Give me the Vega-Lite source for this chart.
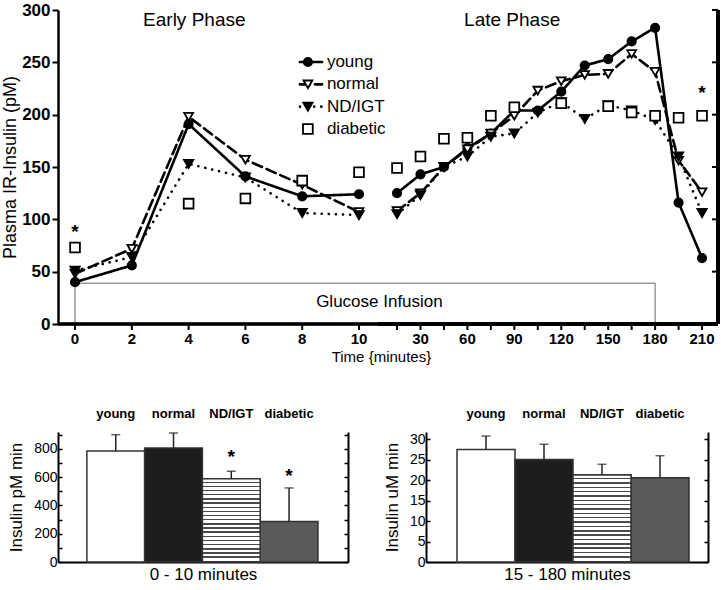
{
  "$schema": "https://vega.github.io/schema/vega-lite/v6.json",
  "background": "white",
  "padding": {"left": 1, "top": 1, "right": 0, "bottom": 0},
  "resolve": {"scale": {"fill": "independent", "shape": "independent", "size": "independent", "strokeDash": "independent"}},
  "config": {
    "font": "Liberation Sans",
    "view": {"stroke": null},
    "axis": {"grid": false, "domainColor": "black", "tickColor": "black", "labelColor": "black", "titleColor": "black", "titleFontWeight": "normal"}
  },
  "datasets": {
    "ts": [
      {"t": 0, "g": "young", "v": 40, "p": "early"},
      {"t": 2, "g": "young", "v": 56, "p": "early"},
      {"t": 4, "g": "young", "v": 191, "p": "early"},
      {"t": 6, "g": "young", "v": 141, "p": "early"},
      {"t": 8, "g": "young", "v": 122, "p": "early"},
      {"t": 10, "g": "young", "v": 124, "p": "early"},
      {"t": 0, "g": "normal", "v": 48, "p": "early"},
      {"t": 2, "g": "normal", "v": 72, "p": "early"},
      {"t": 4, "g": "normal", "v": 198, "p": "early"},
      {"t": 6, "g": "normal", "v": 157, "p": "early"},
      {"t": 8, "g": "normal", "v": 133, "p": "early"},
      {"t": 10, "g": "normal", "v": 107, "p": "early"},
      {"t": 0, "g": "ND/IGT", "v": 51, "p": "early"},
      {"t": 2, "g": "ND/IGT", "v": 64, "p": "early"},
      {"t": 4, "g": "ND/IGT", "v": 153, "p": "early"},
      {"t": 6, "g": "ND/IGT", "v": 140, "p": "early"},
      {"t": 8, "g": "ND/IGT", "v": 106, "p": "early"},
      {"t": 10, "g": "ND/IGT", "v": 104, "p": "early"},
      {"t": 0, "g": "diabetic", "v": 73, "p": "early"},
      {"t": 4, "g": "diabetic", "v": 115, "p": "early"},
      {"t": 6, "g": "diabetic", "v": 120, "p": "early"},
      {"t": 8, "g": "diabetic", "v": 137, "p": "early"},
      {"t": 10, "g": "diabetic", "v": 145, "p": "early"},
      {"t": 15, "g": "young", "v": 125, "p": "late"},
      {"t": 30, "g": "young", "v": 143, "p": "late"},
      {"t": 45, "g": "young", "v": 150, "p": "late"},
      {"t": 60, "g": "young", "v": 168, "p": "late"},
      {"t": 75, "g": "young", "v": 182, "p": "late"},
      {"t": 90, "g": "young", "v": 204, "p": "late"},
      {"t": 105, "g": "young", "v": 204, "p": "late"},
      {"t": 120, "g": "young", "v": 222, "p": "late"},
      {"t": 135, "g": "young", "v": 247, "p": "late"},
      {"t": 150, "g": "young", "v": 253, "p": "late"},
      {"t": 165, "g": "young", "v": 270, "p": "late"},
      {"t": 180, "g": "young", "v": 283, "p": "late"},
      {"t": 195, "g": "young", "v": 116, "p": "late"},
      {"t": 210, "g": "young", "v": 63, "p": "late"},
      {"t": 15, "g": "normal", "v": 108, "p": "late"},
      {"t": 30, "g": "normal", "v": 125, "p": "late"},
      {"t": 45, "g": "normal", "v": 150, "p": "late"},
      {"t": 60, "g": "normal", "v": 167, "p": "late"},
      {"t": 75, "g": "normal", "v": 182, "p": "late"},
      {"t": 90, "g": "normal", "v": 199, "p": "late"},
      {"t": 105, "g": "normal", "v": 223, "p": "late"},
      {"t": 120, "g": "normal", "v": 232, "p": "late"},
      {"t": 135, "g": "normal", "v": 238, "p": "late"},
      {"t": 150, "g": "normal", "v": 239, "p": "late"},
      {"t": 165, "g": "normal", "v": 258, "p": "late"},
      {"t": 180, "g": "normal", "v": 241, "p": "late"},
      {"t": 195, "g": "normal", "v": 156, "p": "late"},
      {"t": 210, "g": "normal", "v": 126, "p": "late"},
      {"t": 15, "g": "ND/IGT", "v": 105, "p": "late"},
      {"t": 30, "g": "ND/IGT", "v": 123, "p": "late"},
      {"t": 45, "g": "ND/IGT", "v": 150, "p": "late"},
      {"t": 60, "g": "ND/IGT", "v": 160, "p": "late"},
      {"t": 75, "g": "ND/IGT", "v": 179, "p": "late"},
      {"t": 90, "g": "ND/IGT", "v": 182, "p": "late"},
      {"t": 105, "g": "ND/IGT", "v": 202, "p": "late"},
      {"t": 120, "g": "ND/IGT", "v": 212, "p": "late"},
      {"t": 135, "g": "ND/IGT", "v": 196, "p": "late"},
      {"t": 150, "g": "ND/IGT", "v": 209, "p": "late"},
      {"t": 165, "g": "ND/IGT", "v": 204, "p": "late"},
      {"t": 180, "g": "ND/IGT", "v": 195, "p": "late"},
      {"t": 195, "g": "ND/IGT", "v": 160, "p": "late"},
      {"t": 210, "g": "ND/IGT", "v": 106, "p": "late"},
      {"t": 15, "g": "diabetic", "v": 149, "p": "late"},
      {"t": 30, "g": "diabetic", "v": 160, "p": "late"},
      {"t": 45, "g": "diabetic", "v": 177, "p": "late"},
      {"t": 60, "g": "diabetic", "v": 178, "p": "late"},
      {"t": 75, "g": "diabetic", "v": 199, "p": "late"},
      {"t": 90, "g": "diabetic", "v": 207, "p": "late"},
      {"t": 120, "g": "diabetic", "v": 211, "p": "late"},
      {"t": 150, "g": "diabetic", "v": 208, "p": "late"},
      {"t": 165, "g": "diabetic", "v": 202, "p": "late"},
      {"t": 180, "g": "diabetic", "v": 199, "p": "late"},
      {"t": 195, "g": "diabetic", "v": 197, "p": "late"},
      {"t": 210, "g": "diabetic", "v": 199, "p": "late"}
    ],
    "groups": [{"g": "young"}, {"g": "normal"}, {"g": "ND/IGT"}, {"g": "diabetic"}],
    "infusionbox": [{"start": 0, "end": 180, "lo": 0, "hi": 39}],
    "xte": [{"t": 0, "lab": "0"}, {"t": 2, "lab": "2"}, {"t": 4, "lab": "4"}, {"t": 6, "lab": "6"}, {"t": 8, "lab": "8"}, {"t": 10, "lab": "10"}],
    "xtl": [
      {"t": 15, "lab": ""}, {"t": 30, "lab": "30"}, {"t": 45, "lab": ""}, {"t": 60, "lab": "60"},
      {"t": 75, "lab": ""}, {"t": 90, "lab": "90"}, {"t": 105, "lab": ""}, {"t": 120, "lab": "120"},
      {"t": 135, "lab": ""}, {"t": 150, "lab": "150"}, {"t": 165, "lab": ""}, {"t": 180, "lab": "180"},
      {"t": 195, "lab": ""}, {"t": 210, "lab": "210"}
    ],
    "yt": [{"v": 0}, {"v": 50}, {"v": 100}, {"v": 150}, {"v": 200}, {"v": 250}, {"v": 300}],
    "early": [
      {"g": "young", "m": 783, "e": 899},
      {"g": "normal", "m": 805, "e": 911},
      {"g": "ND/IGT", "m": 587, "e": 641, "star": 738},
      {"g": "diabetic", "m": 286, "e": 523, "star": 607}
    ],
    "late": [
      {"g": "young", "m": 27.5, "e": 30.8},
      {"g": "normal", "m": 25.1, "e": 28.8},
      {"g": "ND/IGT", "m": 21.3, "e": 23.9},
      {"g": "diabetic", "m": 20.6, "e": 26.0}
    ]
  },
  "spacing": 42,
  "vconcat": [
    {
      "spacing": 0,
      "bounds": "flush",
      "resolve": {"scale": {"fill": "independent", "shape": "independent", "size": "independent", "strokeDash": "independent"}},
      "hconcat": [
        {
          "width": 320,
          "height": 314,
          "resolve": {"scale": {"y": "independent"}},
          "layer": [
            {
              "data": {"name": "ts"},
              "transform": [{"filter": "datum.p == 'early' && datum.g != 'diabetic'"}],
              "mark": {"type": "line", "color": "black", "strokeWidth": 2.6, "strokeCap": "round"},
              "encoding": {
                "x": {"field": "t", "type": "quantitative", "axis": null, "scale": {"domain": [-0.6, 10.669], "nice": false, "zero": false}},
                "y": {
                  "field": "v", "type": "quantitative", "title": "Plasma IR-Insulin (pM)",
                  "scale": {"domain": [0, 300], "nice": false},
                  "axis": {
                    "values": [0, 50, 100, 150, 200, 250, 300],
                    "labelFontWeight": "bold", "labelFontSize": 17, "labelPadding": 2,
                    "domainWidth": 2.5, "tickWidth": 2, "tickSize": 6,
                    "titleFontSize": 18, "titlePadding": 2
                  }
                },
                "strokeDash": {"field": "g", "type": "nominal", "legend": null, "scale": {"domain": ["young", "normal", "ND/IGT", "diabetic"], "range": [[1, 0], [10, 5], [0.1, 7], [1, 0]]}},
                "detail": {"field": "g"}
              }
            },
            {
              "data": {"name": "infusionbox"},
              "mark": {"type": "rect", "fill": "transparent", "stroke": "#666", "strokeWidth": 1, "clip": true},
              "encoding": {
                "x": {"field": "start", "type": "quantitative", "axis": null, "scale": {"domain": [-0.6, 10.669], "nice": false, "zero": false}},
                "x2": {"field": "end"},
                "y": {"field": "lo", "type": "quantitative", "axis": null, "scale": {"domain": [0, 300], "nice": false}},
                "y2": {"field": "hi"}
              }
            },
            {
              "data": {"name": "xte"},
              "mark": {"type": "rule", "color": "black", "strokeWidth": 2.5},
              "encoding": {
                "x": {"datum": -0.6, "type": "quantitative", "axis": null, "scale": {"domain": [-0.6, 10.669], "nice": false, "zero": false}},
                "x2": {"datum": 10.669},
                "y": {"datum": 0, "type": "quantitative", "axis": null, "scale": {"domain": [0, 300], "nice": false}}
              }
            },
            {
              "data": {"name": "xte"},
              "mark": {"type": "rule", "color": "black", "strokeWidth": 2},
              "encoding": {
                "x": {"field": "t", "type": "quantitative", "axis": null, "scale": {"domain": [-0.6, 10.669], "nice": false, "zero": false}},
                "y": {"datum": 0, "type": "quantitative", "axis": null, "scale": {"domain": [0, 300], "nice": false}},
                "y2": {"datum": -5.7}
              }
            },
            {
              "data": {"name": "xte"},
              "mark": {"type": "text", "fontSize": 15, "fontWeight": "bold", "color": "black", "baseline": "middle"},
              "encoding": {
                "x": {"field": "t", "type": "quantitative", "axis": null, "scale": {"domain": [-0.6, 10.669], "nice": false, "zero": false}},
                "y": {"datum": -14.8, "type": "quantitative", "axis": null, "scale": {"domain": [0, 300], "nice": false}},
                "text": {"field": "lab"}
              }
            },
            {
              "data": {"name": "ts"},
              "transform": [{"filter": "datum.p == 'early'"}],
              "mark": {"type": "point", "filled": true, "stroke": "black", "strokeWidth": 1.8, "opacity": 1},
              "encoding": {
                "x": {"field": "t", "type": "quantitative", "axis": null, "scale": {"domain": [-0.6, 10.669], "nice": false, "zero": false}},
                "y": {"field": "v", "type": "quantitative", "axis": null, "scale": {"domain": [0, 300], "nice": false}},
                "shape": {"field": "g", "type": "nominal", "legend": null, "scale": {"domain": ["young", "normal", "ND/IGT", "diabetic"], "range": ["circle", "triangle-down", "triangle-down", "square"]}},
                "fill": {"field": "g", "type": "nominal", "legend": null, "scale": {"domain": ["young", "normal", "ND/IGT", "diabetic"], "range": ["black", "white", "black", "white"]}},
                "size": {"field": "g", "type": "nominal", "legend": null, "scale": {"domain": ["young", "normal", "ND/IGT", "diabetic"], "range": [70, 95, 80, 100]}}
              }
            },
            {
              "data": {"name": "groups"},
              "transform": [{"filter": "datum.g != 'diabetic'"}],
              "mark": {"type": "rule", "color": "black", "strokeWidth": 2.6, "strokeCap": "round"},
              "encoding": {
                "x": {"datum": 7.92, "type": "quantitative", "axis": null, "scale": {"domain": [-0.6, 10.669], "nice": false, "zero": false}},
                "x2": {"datum": 8.7},
                "y": {"field": "g", "type": "nominal", "axis": null, "scale": {"type": "point", "domain": ["young", "normal", "ND/IGT", "diabetic"], "range": [52, 119], "padding": 0}},
                "strokeDash": {"field": "g", "type": "nominal", "legend": null, "scale": {"domain": ["young", "normal", "ND/IGT", "diabetic"], "range": [[1, 0], [10, 5], [0.1, 7], [1, 0]]}}
              }
            },
            {
              "data": {"name": "groups"},
              "mark": {"type": "point", "filled": true, "stroke": "black", "strokeWidth": 1.8, "opacity": 1},
              "encoding": {
                "x": {"datum": 8.2, "type": "quantitative", "axis": null, "scale": {"domain": [-0.6, 10.669], "nice": false, "zero": false}},
                "y": {"field": "g", "type": "nominal", "axis": null, "scale": {"type": "point", "domain": ["young", "normal", "ND/IGT", "diabetic"], "range": [52, 119], "padding": 0}},
                "shape": {"field": "g", "type": "nominal", "legend": null, "scale": {"domain": ["young", "normal", "ND/IGT", "diabetic"], "range": ["circle", "triangle-down", "triangle-down", "square"]}},
                "fill": {"field": "g", "type": "nominal", "legend": null, "scale": {"domain": ["young", "normal", "ND/IGT", "diabetic"], "range": ["black", "white", "black", "white"]}},
                "size": {"field": "g", "type": "nominal", "legend": null, "scale": {"domain": ["young", "normal", "ND/IGT", "diabetic"], "range": [70, 95, 80, 100]}}
              }
            },
            {
              "data": {"name": "groups"},
              "mark": {"type": "text", "fontSize": 17, "color": "black", "align": "left", "baseline": "middle"},
              "encoding": {
                "x": {"datum": 8.87, "type": "quantitative", "axis": null, "scale": {"domain": [-0.6, 10.669], "nice": false, "zero": false}},
                "y": {"field": "g", "type": "nominal", "axis": null, "scale": {"type": "point", "domain": ["young", "normal", "ND/IGT", "diabetic"], "range": [52, 119], "padding": 0}},
                "text": {"field": "g"}
              }
            },
            {
              "data": {"values": [{"t": 4.2, "v": 290, "label": "Early  Phase"}]},
              "mark": {"type": "text", "fontSize": 19, "color": "black", "baseline": "middle"},
              "encoding": {
                "x": {"field": "t", "type": "quantitative", "axis": null, "scale": {"domain": [-0.6, 10.669], "nice": false, "zero": false}},
                "y": {"field": "v", "type": "quantitative", "axis": null, "scale": {"domain": [0, 300], "nice": false}},
                "text": {"field": "label"}
              }
            },
            {
              "data": {"values": [{"t": 10.72, "v": 21, "label": "Glucose  Infusion"}]},
              "mark": {"type": "text", "fontSize": 17, "color": "black", "baseline": "middle"},
              "encoding": {
                "x": {"field": "t", "type": "quantitative", "axis": null, "scale": {"domain": [-0.6, 10.669], "nice": false, "zero": false}},
                "y": {"field": "v", "type": "quantitative", "axis": null, "scale": {"domain": [0, 300], "nice": false}},
                "text": {"field": "label"}
              }
            },
            {
              "data": {"values": [{"t": 10.79, "v": -31.5, "label": "Time {minutes}"}]},
              "mark": {"type": "text", "fontSize": 15, "color": "black", "baseline": "middle"},
              "encoding": {
                "x": {"field": "t", "type": "quantitative", "axis": null, "scale": {"domain": [-0.6, 10.669], "nice": false, "zero": false}},
                "y": {"field": "v", "type": "quantitative", "axis": null, "scale": {"domain": [0, 300], "nice": false}},
                "text": {"field": "label"}
              }
            },
            {
              "data": {"values": [{"t": 0, "v": 88}]},
              "mark": {"type": "text", "text": "*", "fontSize": 19, "fontWeight": "bold", "color": "black", "baseline": "middle"},
              "encoding": {
                "x": {"field": "t", "type": "quantitative", "axis": null, "scale": {"domain": [-0.6, 10.669], "nice": false, "zero": false}},
                "y": {"field": "v", "type": "quantitative", "axis": null, "scale": {"domain": [0, 300], "nice": false}}
              }
            }
          ]
        },
        {
          "width": 340,
          "height": 314,
          "layer": [
            {
              "data": {"name": "ts"},
              "transform": [{"filter": "datum.p == 'late' && datum.g != 'diabetic'"}],
              "mark": {"type": "line", "color": "black", "strokeWidth": 2.6, "strokeCap": "round"},
              "encoding": {
                "x": {"field": "t", "type": "quantitative", "axis": null, "scale": {"domain": [2.846, 220.2], "nice": false, "zero": false}},
                "y": {"field": "v", "type": "quantitative", "axis": null, "scale": {"domain": [0, 300], "nice": false}},
                "strokeDash": {"field": "g", "type": "nominal", "legend": null, "scale": {"domain": ["young", "normal", "ND/IGT", "diabetic"], "range": [[1, 0], [10, 5], [0.1, 7], [1, 0]]}},
                "detail": {"field": "g"}
              }
            },
            {
              "data": {"name": "infusionbox"},
              "mark": {"type": "rect", "fill": "transparent", "stroke": "#666", "strokeWidth": 1, "clip": true},
              "encoding": {
                "x": {"field": "start", "type": "quantitative", "axis": null, "scale": {"domain": [2.846, 220.2], "nice": false, "zero": false}},
                "x2": {"field": "end"},
                "y": {"field": "lo", "type": "quantitative", "axis": null, "scale": {"domain": [0, 300], "nice": false}},
                "y2": {"field": "hi"}
              }
            },
            {
              "data": {"name": "xtl"},
              "mark": {"type": "rule", "color": "black", "strokeWidth": 2.5},
              "encoding": {
                "x": {"datum": 2.846, "type": "quantitative", "axis": null, "scale": {"domain": [2.846, 220.2], "nice": false, "zero": false}},
                "x2": {"datum": 220.2},
                "y": {"datum": 0, "type": "quantitative", "axis": null, "scale": {"domain": [0, 300], "nice": false}}
              }
            },
            {
              "data": {"name": "xtl"},
              "mark": {"type": "rule", "color": "black", "strokeWidth": 2.5},
              "encoding": {
                "x": {"datum": 220.2, "type": "quantitative", "axis": null, "scale": {"domain": [2.846, 220.2], "nice": false, "zero": false}},
                "y": {"datum": 0, "type": "quantitative", "axis": null, "scale": {"domain": [0, 300], "nice": false}},
                "y2": {"datum": 300}
              }
            },
            {
              "data": {"name": "yt"},
              "mark": {"type": "rule", "color": "black", "strokeWidth": 2},
              "encoding": {
                "x": {"datum": 216.36, "type": "quantitative", "axis": null, "scale": {"domain": [2.846, 220.2], "nice": false, "zero": false}},
                "x2": {"datum": 220.2},
                "y": {"field": "v", "type": "quantitative", "axis": null, "scale": {"domain": [0, 300], "nice": false}}
              }
            },
            {
              "data": {"name": "xtl"},
              "mark": {"type": "rule", "color": "black", "strokeWidth": 2},
              "encoding": {
                "x": {"field": "t", "type": "quantitative", "axis": null, "scale": {"domain": [2.846, 220.2], "nice": false, "zero": false}},
                "y": {"datum": 0, "type": "quantitative", "axis": null, "scale": {"domain": [0, 300], "nice": false}},
                "y2": {"datum": -5.7}
              }
            },
            {
              "data": {"name": "xtl"},
              "mark": {"type": "text", "fontSize": 15, "fontWeight": "bold", "color": "black", "baseline": "middle"},
              "encoding": {
                "x": {"field": "t", "type": "quantitative", "axis": null, "scale": {"domain": [2.846, 220.2], "nice": false, "zero": false}},
                "y": {"datum": -14.8, "type": "quantitative", "axis": null, "scale": {"domain": [0, 300], "nice": false}},
                "text": {"field": "lab"}
              }
            },
            {
              "data": {"name": "ts"},
              "transform": [{"filter": "datum.p == 'late'"}],
              "mark": {"type": "point", "filled": true, "stroke": "black", "strokeWidth": 1.8, "opacity": 1},
              "encoding": {
                "x": {"field": "t", "type": "quantitative", "axis": null, "scale": {"domain": [2.846, 220.2], "nice": false, "zero": false}},
                "y": {"field": "v", "type": "quantitative", "axis": null, "scale": {"domain": [0, 300], "nice": false}},
                "shape": {"field": "g", "type": "nominal", "legend": null, "scale": {"domain": ["young", "normal", "ND/IGT", "diabetic"], "range": ["circle", "triangle-down", "triangle-down", "square"]}},
                "fill": {"field": "g", "type": "nominal", "legend": null, "scale": {"domain": ["young", "normal", "ND/IGT", "diabetic"], "range": ["black", "white", "black", "white"]}},
                "size": {"field": "g", "type": "nominal", "legend": null, "scale": {"domain": ["young", "normal", "ND/IGT", "diabetic"], "range": [70, 95, 80, 100]}}
              }
            },
            {
              "data": {"values": [{"t": 88.6, "v": 290, "label": "Late  Phase"}]},
              "mark": {"type": "text", "fontSize": 19, "color": "black", "baseline": "middle"},
              "encoding": {
                "x": {"field": "t", "type": "quantitative", "axis": null, "scale": {"domain": [2.846, 220.2], "nice": false, "zero": false}},
                "y": {"field": "v", "type": "quantitative", "axis": null, "scale": {"domain": [0, 300], "nice": false}},
                "text": {"field": "label"}
              }
            },
            {
              "data": {"values": [{"t": 210, "v": 221}]},
              "mark": {"type": "text", "text": "*", "fontSize": 19, "fontWeight": "bold", "color": "black", "baseline": "middle"},
              "encoding": {
                "x": {"field": "t", "type": "quantitative", "axis": null, "scale": {"domain": [2.846, 220.2], "nice": false, "zero": false}},
                "y": {"field": "v", "type": "quantitative", "axis": null, "scale": {"domain": [0, 300], "nice": false}}
              }
            }
          ]
        }
      ]
    },
    {
      "spacing": 34,
      "hconcat": [
        {
          "width": 290,
          "height": 130,
          "data": {"name": "early"},
          "resolve": {"axis": {"x": "independent", "y": "independent"}},
          "layer": [
            {
              "mark": {"type": "bar", "stroke": "#333", "strokeWidth": 1.5},
              "encoding": {
                "x": {"field": "g", "type": "nominal", "sort": null, "title": null,
                  "scale": {"domain": ["young", "normal", "ND/IGT", "diabetic"], "paddingInner": 0, "paddingOuter": 0.51, "align": 0.49},
                  "axis": {"orient": "top", "domain": false, "ticks": false, "labelAngle": 0, "labelFontWeight": "bold", "labelFontSize": 13, "labelPadding": 12}},
                "y": {"field": "m", "type": "quantitative", "title": "Insulin  pM min",
                  "scale": {"domain": [0, 918], "nice": false},
                  "axis": {"values": [0, 100, 200, 300, 400, 500, 600, 700, 800, 900], "labelExpr": "datum.value % 200 == 0 ? datum.label : ''", "labelFontSize": 14, "labelPadding": 5, "tickSize": -4, "tickWidth": 1.5, "domainWidth": 2, "titleFontSize": 17, "titlePadding": 8}},
                "fill": {"field": "g", "type": "nominal", "legend": null, "scale": {"domain": ["young", "normal", "ND/IGT", "diabetic"], "range": ["white", "#1e1c1d", "white", "#5a5a5a"]}}
              }
            },
            {
              "transform": [{"filter": "datum.g == 'ND/IGT'"}],
              "mark": {"type": "bar", "stroke": "#333", "strokeWidth": 1.5, "fill": {"gradient": "linear", "x1": 0, "y1": 0, "x2": 0, "y2": 1, "stops": [
                {"offset": 0, "color": "white"}, {"offset": 0.033, "color": "white"}, {"offset": 0.033, "color": "#4a4a4a"}, {"offset": 0.05, "color": "#4a4a4a"},
                {"offset": 0.05, "color": "white"}, {"offset": 0.083, "color": "white"}, {"offset": 0.083, "color": "#4a4a4a"}, {"offset": 0.1, "color": "#4a4a4a"},
                {"offset": 0.1, "color": "white"}, {"offset": 0.133, "color": "white"}, {"offset": 0.133, "color": "#4a4a4a"}, {"offset": 0.15, "color": "#4a4a4a"},
                {"offset": 0.15, "color": "white"}, {"offset": 0.183, "color": "white"}, {"offset": 0.183, "color": "#4a4a4a"}, {"offset": 0.2, "color": "#4a4a4a"},
                {"offset": 0.2, "color": "white"}, {"offset": 0.233, "color": "white"}, {"offset": 0.233, "color": "#4a4a4a"}, {"offset": 0.25, "color": "#4a4a4a"},
                {"offset": 0.25, "color": "white"}, {"offset": 0.283, "color": "white"}, {"offset": 0.283, "color": "#4a4a4a"}, {"offset": 0.3, "color": "#4a4a4a"},
                {"offset": 0.3, "color": "white"}, {"offset": 0.333, "color": "white"}, {"offset": 0.333, "color": "#4a4a4a"}, {"offset": 0.35, "color": "#4a4a4a"},
                {"offset": 0.35, "color": "white"}, {"offset": 0.383, "color": "white"}, {"offset": 0.383, "color": "#4a4a4a"}, {"offset": 0.4, "color": "#4a4a4a"},
                {"offset": 0.4, "color": "white"}, {"offset": 0.433, "color": "white"}, {"offset": 0.433, "color": "#4a4a4a"}, {"offset": 0.45, "color": "#4a4a4a"},
                {"offset": 0.45, "color": "white"}, {"offset": 0.483, "color": "white"}, {"offset": 0.483, "color": "#4a4a4a"}, {"offset": 0.5, "color": "#4a4a4a"},
                {"offset": 0.5, "color": "white"}, {"offset": 0.533, "color": "white"}, {"offset": 0.533, "color": "#4a4a4a"}, {"offset": 0.55, "color": "#4a4a4a"},
                {"offset": 0.55, "color": "white"}, {"offset": 0.583, "color": "white"}, {"offset": 0.583, "color": "#4a4a4a"}, {"offset": 0.6, "color": "#4a4a4a"},
                {"offset": 0.6, "color": "white"}, {"offset": 0.633, "color": "white"}, {"offset": 0.633, "color": "#4a4a4a"}, {"offset": 0.65, "color": "#4a4a4a"},
                {"offset": 0.65, "color": "white"}, {"offset": 0.683, "color": "white"}, {"offset": 0.683, "color": "#4a4a4a"}, {"offset": 0.7, "color": "#4a4a4a"},
                {"offset": 0.7, "color": "white"}, {"offset": 0.733, "color": "white"}, {"offset": 0.733, "color": "#4a4a4a"}, {"offset": 0.75, "color": "#4a4a4a"},
                {"offset": 0.75, "color": "white"}, {"offset": 0.783, "color": "white"}, {"offset": 0.783, "color": "#4a4a4a"}, {"offset": 0.8, "color": "#4a4a4a"},
                {"offset": 0.8, "color": "white"}, {"offset": 0.833, "color": "white"}, {"offset": 0.833, "color": "#4a4a4a"}, {"offset": 0.85, "color": "#4a4a4a"},
                {"offset": 0.85, "color": "white"}, {"offset": 0.883, "color": "white"}, {"offset": 0.883, "color": "#4a4a4a"}, {"offset": 0.9, "color": "#4a4a4a"},
                {"offset": 0.9, "color": "white"}, {"offset": 0.933, "color": "white"}, {"offset": 0.933, "color": "#4a4a4a"}, {"offset": 0.95, "color": "#4a4a4a"},
                {"offset": 0.95, "color": "white"}, {"offset": 0.983, "color": "white"}, {"offset": 0.983, "color": "#4a4a4a"}, {"offset": 1, "color": "#4a4a4a"}
              ]}},
              "encoding": {
                "x": {"field": "g", "type": "nominal", "sort": null, "axis": null, "scale": {"domain": ["young", "normal", "ND/IGT", "diabetic"], "paddingInner": 0, "paddingOuter": 0.51, "align": 0.49}},
                "y": {"field": "m", "type": "quantitative", "axis": null, "scale": {"domain": [0, 918], "nice": false}}
              }
            },
            {
              "mark": {"type": "rule", "color": "#222", "strokeWidth": 1.5},
              "encoding": {
                "x": {"field": "g", "type": "nominal", "sort": null, "title": "0 - 10 minutes",
                  "scale": {"domain": ["young", "normal", "ND/IGT", "diabetic"], "paddingInner": 0, "paddingOuter": 0.51, "align": 0.49},
                  "axis": {"orient": "bottom", "labels": false, "ticks": false, "domainWidth": 2, "titleFontSize": 17, "titlePadding": 4}},
                "y": {"field": "m", "type": "quantitative", "title": null,
                  "scale": {"domain": [0, 918], "nice": false},
                  "axis": {"orient": "right", "values": [0, 100, 200, 300, 400, 500, 600, 700, 800, 900], "labels": false, "tickSize": -4, "tickWidth": 1.5, "domainWidth": 2}},
                "y2": {"field": "e"}
              }
            },
            {
              "mark": {"type": "tick", "color": "#222", "thickness": 1.5, "size": 9},
              "encoding": {
                "x": {"field": "g", "type": "nominal", "sort": null, "axis": null, "scale": {"domain": ["young", "normal", "ND/IGT", "diabetic"], "paddingInner": 0, "paddingOuter": 0.51, "align": 0.49}},
                "y": {"field": "e", "type": "quantitative", "axis": null, "scale": {"domain": [0, 918], "nice": false}}
              }
            },
            {
              "transform": [{"filter": "isValid(datum.star)"}],
              "mark": {"type": "text", "text": "*", "fontSize": 19, "fontWeight": "bold", "color": "black", "baseline": "middle"},
              "encoding": {
                "x": {"field": "g", "type": "nominal", "sort": null, "axis": null, "scale": {"domain": ["young", "normal", "ND/IGT", "diabetic"], "paddingInner": 0, "paddingOuter": 0.51, "align": 0.49}},
                "y": {"field": "star", "type": "quantitative", "axis": null, "scale": {"domain": [0, 918], "nice": false}}
              }
            }
          ]
        },
        {
          "width": 282,
          "height": 130,
          "data": {"name": "late"},
          "resolve": {"axis": {"x": "independent", "y": "independent"}},
          "layer": [
            {
              "mark": {"type": "bar", "stroke": "#333", "strokeWidth": 1.5},
              "encoding": {
                "x": {"field": "g", "type": "nominal", "sort": null, "title": null,
                  "scale": {"domain": ["young", "normal", "ND/IGT", "diabetic"], "paddingInner": 0, "paddingOuter": 0.431, "align": 0.62},
                  "axis": {"orient": "top", "domain": false, "ticks": false, "labelAngle": 0, "labelFontWeight": "bold", "labelFontSize": 13, "labelPadding": 12}},
                "y": {"field": "m", "type": "quantitative", "title": "Insulin  uM min",
                  "scale": {"domain": [0, 31.8], "nice": false},
                  "axis": {"values": [0, 5, 10, 15, 20, 25, 30], "labelFontSize": 14, "labelPadding": 5, "tickSize": -4, "tickWidth": 1.5, "domainWidth": 2, "titleFontSize": 17, "titlePadding": 8}},
                "fill": {"field": "g", "type": "nominal", "legend": null, "scale": {"domain": ["young", "normal", "ND/IGT", "diabetic"], "range": ["white", "#1e1c1d", "white", "#5a5a5a"]}}
              }
            },
            {
              "transform": [{"filter": "datum.g == 'ND/IGT'"}],
              "mark": {"type": "bar", "stroke": "#333", "strokeWidth": 1.5, "fill": {"gradient": "linear", "x1": 0, "y1": 0, "x2": 0, "y2": 1, "stops": [
                {"offset": 0, "color": "white"}, {"offset": 0.033, "color": "white"}, {"offset": 0.033, "color": "#4a4a4a"}, {"offset": 0.05, "color": "#4a4a4a"},
                {"offset": 0.05, "color": "white"}, {"offset": 0.083, "color": "white"}, {"offset": 0.083, "color": "#4a4a4a"}, {"offset": 0.1, "color": "#4a4a4a"},
                {"offset": 0.1, "color": "white"}, {"offset": 0.133, "color": "white"}, {"offset": 0.133, "color": "#4a4a4a"}, {"offset": 0.15, "color": "#4a4a4a"},
                {"offset": 0.15, "color": "white"}, {"offset": 0.183, "color": "white"}, {"offset": 0.183, "color": "#4a4a4a"}, {"offset": 0.2, "color": "#4a4a4a"},
                {"offset": 0.2, "color": "white"}, {"offset": 0.233, "color": "white"}, {"offset": 0.233, "color": "#4a4a4a"}, {"offset": 0.25, "color": "#4a4a4a"},
                {"offset": 0.25, "color": "white"}, {"offset": 0.283, "color": "white"}, {"offset": 0.283, "color": "#4a4a4a"}, {"offset": 0.3, "color": "#4a4a4a"},
                {"offset": 0.3, "color": "white"}, {"offset": 0.333, "color": "white"}, {"offset": 0.333, "color": "#4a4a4a"}, {"offset": 0.35, "color": "#4a4a4a"},
                {"offset": 0.35, "color": "white"}, {"offset": 0.383, "color": "white"}, {"offset": 0.383, "color": "#4a4a4a"}, {"offset": 0.4, "color": "#4a4a4a"},
                {"offset": 0.4, "color": "white"}, {"offset": 0.433, "color": "white"}, {"offset": 0.433, "color": "#4a4a4a"}, {"offset": 0.45, "color": "#4a4a4a"},
                {"offset": 0.45, "color": "white"}, {"offset": 0.483, "color": "white"}, {"offset": 0.483, "color": "#4a4a4a"}, {"offset": 0.5, "color": "#4a4a4a"},
                {"offset": 0.5, "color": "white"}, {"offset": 0.533, "color": "white"}, {"offset": 0.533, "color": "#4a4a4a"}, {"offset": 0.55, "color": "#4a4a4a"},
                {"offset": 0.55, "color": "white"}, {"offset": 0.583, "color": "white"}, {"offset": 0.583, "color": "#4a4a4a"}, {"offset": 0.6, "color": "#4a4a4a"},
                {"offset": 0.6, "color": "white"}, {"offset": 0.633, "color": "white"}, {"offset": 0.633, "color": "#4a4a4a"}, {"offset": 0.65, "color": "#4a4a4a"},
                {"offset": 0.65, "color": "white"}, {"offset": 0.683, "color": "white"}, {"offset": 0.683, "color": "#4a4a4a"}, {"offset": 0.7, "color": "#4a4a4a"},
                {"offset": 0.7, "color": "white"}, {"offset": 0.733, "color": "white"}, {"offset": 0.733, "color": "#4a4a4a"}, {"offset": 0.75, "color": "#4a4a4a"},
                {"offset": 0.75, "color": "white"}, {"offset": 0.783, "color": "white"}, {"offset": 0.783, "color": "#4a4a4a"}, {"offset": 0.8, "color": "#4a4a4a"},
                {"offset": 0.8, "color": "white"}, {"offset": 0.833, "color": "white"}, {"offset": 0.833, "color": "#4a4a4a"}, {"offset": 0.85, "color": "#4a4a4a"},
                {"offset": 0.85, "color": "white"}, {"offset": 0.883, "color": "white"}, {"offset": 0.883, "color": "#4a4a4a"}, {"offset": 0.9, "color": "#4a4a4a"},
                {"offset": 0.9, "color": "white"}, {"offset": 0.933, "color": "white"}, {"offset": 0.933, "color": "#4a4a4a"}, {"offset": 0.95, "color": "#4a4a4a"},
                {"offset": 0.95, "color": "white"}, {"offset": 0.983, "color": "white"}, {"offset": 0.983, "color": "#4a4a4a"}, {"offset": 1, "color": "#4a4a4a"}
              ]}},
              "encoding": {
                "x": {"field": "g", "type": "nominal", "sort": null, "axis": null, "scale": {"domain": ["young", "normal", "ND/IGT", "diabetic"], "paddingInner": 0, "paddingOuter": 0.431, "align": 0.62}},
                "y": {"field": "m", "type": "quantitative", "axis": null, "scale": {"domain": [0, 31.8], "nice": false}}
              }
            },
            {
              "mark": {"type": "rule", "color": "#222", "strokeWidth": 1.5},
              "encoding": {
                "x": {"field": "g", "type": "nominal", "sort": null, "title": "15 - 180 minutes",
                  "scale": {"domain": ["young", "normal", "ND/IGT", "diabetic"], "paddingInner": 0, "paddingOuter": 0.431, "align": 0.62},
                  "axis": {"orient": "bottom", "labels": false, "ticks": false, "domainWidth": 2, "titleFontSize": 17, "titlePadding": 4}},
                "y": {"field": "m", "type": "quantitative", "title": null,
                  "scale": {"domain": [0, 31.8], "nice": false},
                  "axis": {"orient": "right", "values": [0, 5, 10, 15, 20, 25, 30], "labels": false, "tickSize": -4, "tickWidth": 1.5, "domainWidth": 2}},
                "y2": {"field": "e"}
              }
            },
            {
              "mark": {"type": "tick", "color": "#222", "thickness": 1.5, "size": 9},
              "encoding": {
                "x": {"field": "g", "type": "nominal", "sort": null, "axis": null, "scale": {"domain": ["young", "normal", "ND/IGT", "diabetic"], "paddingInner": 0, "paddingOuter": 0.431, "align": 0.62}},
                "y": {"field": "e", "type": "quantitative", "axis": null, "scale": {"domain": [0, 31.8], "nice": false}}
              }
            }
          ]
        }
      ]
    }
  ]
}
